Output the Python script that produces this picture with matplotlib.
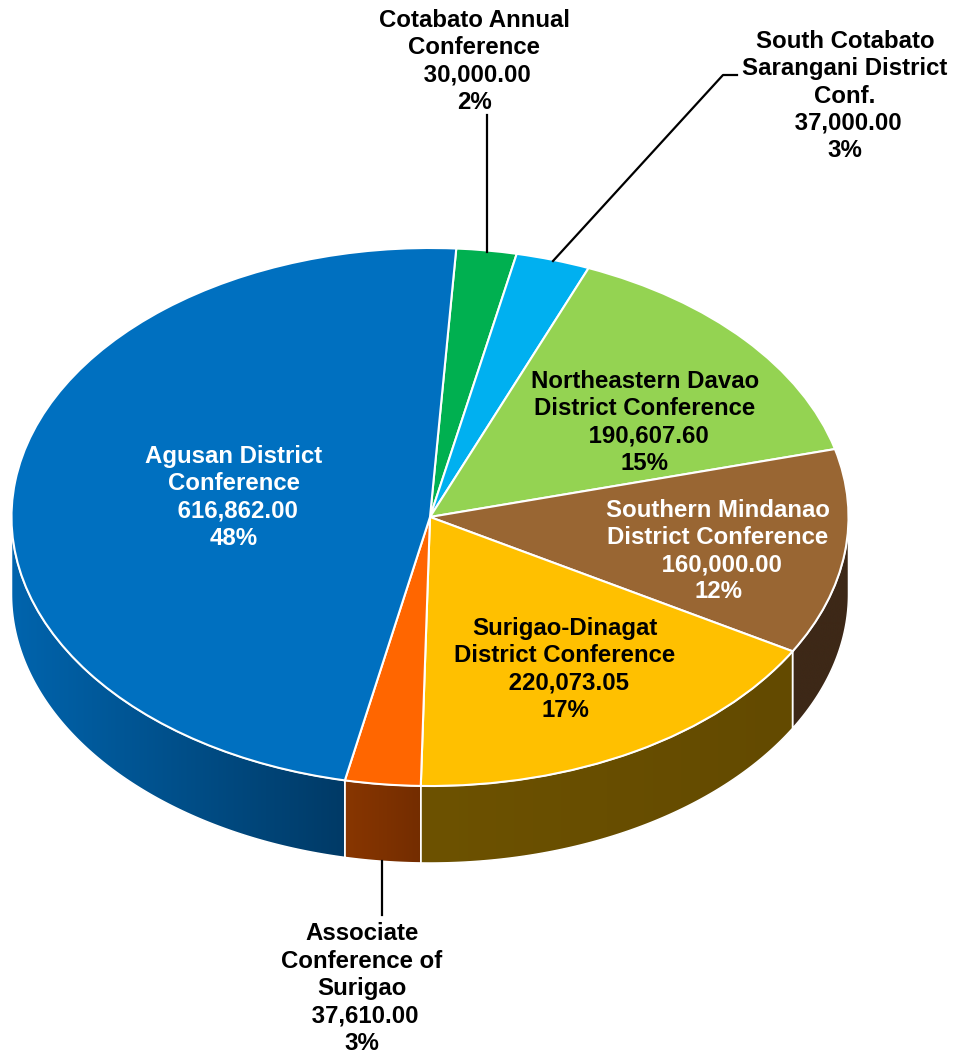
import numpy as np
import matplotlib
matplotlib.use('Agg')
import matplotlib.pyplot as plt
from matplotlib.colors import LinearSegmentedColormap
from matplotlib.patches import Polygon

plt.rcParams['font.family'] = ['Liberation Sans', 'DejaVu Sans']

# clockwise from the top of the pie
names = ['Cotabato Annual\nConference',
         'South Cotabato\nSarangani District\nConf.',
         'Northeastern Davao\nDistrict Conference',
         'Southern Mindanao\nDistrict Conference',
         'Surigao-Dinagat\nDistrict Conference',
         'Associate\nConference of\nSurigao',
         'Agusan District\nConference']
values = [30000.00, 37000.00, 190607.60, 160000.00, 220073.05, 37610.00, 616862.00]

colors = ['#00B050', '#00B0F0', '#94D352', '#996633', '#FFC000', '#FF6600', '#0070C0']
wall_left = ['#00803a', '#0080b0', '#6b9a3b', '#3d2817', '#6d5200', '#883600', '#0064ad']
wall_right = ['#00803a', '#0080b0', '#6b9a3b', '#3d2817', '#634a00', '#742d00', '#003a66']
text_colors = ['black', 'black', 'black', 'white', 'black', 'black', 'white']

# label centres, in pixels of the picture
label_x = [474, 845, 645, 718, 565, 362, 234]
label_y = [61.5, 96, 422.5, 551, 669.5, 988.5, 497.5]

W, H = 954, 1055
cx, cy, rx, ry = 430, 517, 418.5, 269
depth = 77 / ry


def to_x(px):
    return (px - cx) / rx


def to_y(py):
    return (cy - py) / ry


fig = plt.figure(figsize=(W / 100, H / 100), dpi=100)
ax = fig.add_axes([0, 0, 1, 1])

wedges, _ = ax.pie(values, colors=colors, startangle=86.4, counterclock=False,
                   wedgeprops={'edgecolor': 'white', 'linewidth': 1.5, 'zorder': 3})

# side wall of the pie, only the part facing the viewer
for i, w in enumerate(wedges):
    for shift in (-360, 0, 360):
        t1 = max(w.theta1 + shift, 180)
        t2 = min(w.theta2 + shift, 360)
        if t2 <= t1:
            continue
        t = np.radians(np.linspace(t1, t2, 120))
        xs = np.cos(t)
        ys = np.sin(t)
        pts = np.column_stack([np.r_[xs, xs[::-1]], np.r_[ys, ys[::-1] - depth]])
        shape = Polygon(pts, closed=True, facecolor='none', edgecolor='none')
        ax.add_patch(shape)
        cmap = LinearSegmentedColormap.from_list('wall', [wall_left[i], wall_right[i]])
        grad = np.linspace(0, 1, 256).reshape(1, -1)
        im = ax.imshow(grad, cmap=cmap, aspect='auto', zorder=1,
                       extent=(xs.min(), xs.max(), ys.min() - depth, ys.max()))
        im.set_clip_path(shape)
        ax.add_patch(Polygon(pts, closed=True, facecolor='none', edgecolor='white',
                             linewidth=1.1, zorder=2))

total = sum(values)
for i in range(len(values)):
    # leading space: the value lines sit a little right of centre in the original
    txt = f"{names[i]}\n {values[i]:,.2f}\n{values[i] / total * 100:.0f}%"
    ax.text(to_x(label_x[i]), to_y(label_y[i]), txt, ha='center', va='center',
            ma='center', color=text_colors[i], fontsize=17.3, fontweight='bold',
            linespacing=1.24, zorder=5)

# leader lines
ax.plot([to_x(487), to_x(487)], [to_y(115), to_y(252)], color='black', lw=1.6, zorder=4)
ax.plot([to_x(553), to_x(723), to_x(737)], [to_y(261), to_y(75), to_y(75)],
        color='black', lw=1.6, zorder=4)
ax.plot([to_x(382), to_x(382)], [to_y(861), to_y(915)], color='black', lw=1.6, zorder=4)

ax.set_aspect('auto')
ax.set_xlim(to_x(0), to_x(W))
ax.set_ylim(to_y(H), to_y(0))
ax.axis('off')

plt.savefig('out.png', dpi=100)
